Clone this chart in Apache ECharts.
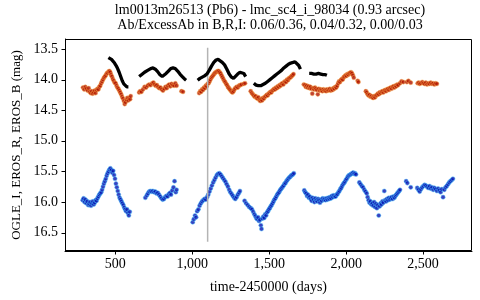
<!DOCTYPE html>
<html><head><meta charset="utf-8">
<script src="https://cdn.jsdelivr.net/npm/echarts@6/dist/echarts.min.js"></script>
<style>html,body{margin:0;padding:0;background:#fff}#c{width:480px;height:300px}</style>
</head><body><div id="c"></div>
<script>
const titleLines = ["lm0013m26513 (Pb6) - lmc_sc4_i_98034 (0.93 arcsec)", "Ab/ExcessAb in B,R,I: 0.06/0.36, 0.04/0.32, 0.00/0.03"];
const xName = "time-2450000 (days)";
const yName = "OGLE_I, EROS_R, EROS_B (mag)";
const xTicks = [500, 1000, 1500, 2000, 2500];
const yTicks = [13.5, 14.0, 14.5, 15.0, 15.5, 16.0, 16.5];
const eventDay = 1100;
const eventMag = [13.48, 16.65];

const ogleI = [
 [[455,13.64],[465,13.65],[475,13.67],[485,13.70],[495,13.73],[505,13.77],[515,13.82],[525,13.88],[535,13.95],[545,14.02],[555,14.07],[565,14.10],[575,14.12],[585,14.12]],
 [[655,13.95],[670,13.92],[690,13.88],[710,13.85],[730,13.82],[745,13.81],[760,13.83],[775,13.87],[790,13.92],[805,13.95],[815,13.94],[830,13.90],[845,13.86],[860,13.82],[875,13.81],[890,13.82],[905,13.86],[920,13.91],[935,13.95],[950,13.99],[960,14.01]],
 [[1035,14.01],[1050,13.98],[1065,13.96],[1080,13.94],[1095,13.91],[1110,13.85],[1125,13.78],[1140,13.72],[1155,13.68],[1168,13.67],[1180,13.69],[1195,13.72],[1210,13.76],[1225,13.83],[1240,13.91],[1255,13.96],[1268,13.98],[1280,13.96],[1295,13.91],[1310,13.88],[1322,13.87],[1335,13.90],[1347,13.95]],
 [[1400,14.06],[1415,14.09],[1430,14.10],[1445,14.10],[1460,14.08],[1475,14.06],[1490,14.03],[1505,14.00],[1520,13.97],[1535,13.94],[1550,13.91],[1565,13.88],[1580,13.85],[1595,13.81],[1610,13.78],[1625,13.75],[1640,13.73],[1655,13.72],[1668,13.71],[1680,13.72],[1692,13.77],[1703,13.83]],
 [[1760,13.90],[1775,13.90],[1790,13.91],[1805,13.91],[1820,13.90],[1835,13.91],[1850,13.92],[1865,13.92],[1875,13.93]]
];

const erosR = [
 [290,14.13],[298,14.16],[305,14.12],[312,14.15],[320,14.18],[327,14.14],[334,14.20],[340,14.22],[347,14.19],[353,14.23],[360,14.21],[366,14.18],[372,14.22],[378,14.17],[384,14.15],[390,14.16],[396,14.12],[402,14.10],[408,14.06],[414,14.03],[420,14.00],[426,13.97],[432,13.95],[438,13.93],[444,13.90],[450,13.89],[456,13.87],[462,13.86],[467,13.88],[472,13.92],[478,13.95],[484,13.99],[490,14.02],[496,14.05],[502,14.06],[508,14.10],[514,14.13],[520,14.15],[526,14.18],[532,14.21],[538,14.24],[544,14.28],[550,14.31],[556,14.35],[561,14.40],[566,14.37],[572,14.33],[578,14.30],[584,14.34],[590,14.30],[596,14.32],[600,14.27],
 [655,14.21],[662,14.19],[670,14.20],[680,14.16],[690,14.12],[700,14.13],[710,14.10],[720,14.08],[730,14.09],[740,14.06],[748,14.05],[755,14.08],[762,14.10],[770,14.09],[778,14.12],[786,14.14],[794,14.13],[802,14.16],[810,14.18],[818,14.15],[826,14.12],[834,14.14],[842,14.10],[850,14.08],[858,14.11],[866,14.07],[874,14.09],[882,14.10],[890,14.06],[898,14.10],[930,14.19],[940,14.20],
 [1045,14.22],[1052,14.19],[1058,14.20],[1064,14.16],[1070,14.17],[1076,14.13],[1082,14.14],[1088,14.10],[1094,14.11],[1100,14.07],[1106,14.06],[1112,14.03],[1118,14.00],[1124,13.97],[1130,13.95],[1136,13.93],[1142,13.91],[1148,13.89],[1154,13.88],[1160,13.87],[1166,13.86],[1172,13.86],[1178,13.88],[1184,13.90],[1190,13.93],[1196,13.96],[1202,13.99],[1208,14.02],[1214,14.04],[1220,14.07],[1226,14.09],[1232,14.12],[1238,14.14],[1244,14.16],[1250,14.18],[1256,14.20],[1262,14.21],[1268,14.19],[1274,14.16],[1280,14.14],[1288,14.12],[1296,14.13],[1304,14.10],[1312,14.09],[1320,14.08],[1335,14.07],[1343,14.06],
 [1380,14.19],[1387,14.22],[1394,14.24],[1400,14.26],[1406,14.28],[1412,14.27],[1418,14.30],[1424,14.31],[1430,14.29],[1436,14.33],[1442,14.35],[1448,14.32],[1454,14.34],[1460,14.30],[1466,14.31],[1472,14.28],[1478,14.27],[1484,14.25],[1490,14.26],[1496,14.23],[1502,14.22],[1508,14.20],[1514,14.21],[1520,14.18],[1526,14.17],[1532,14.15],[1538,14.16],[1544,14.13],[1550,14.14],[1556,14.11],[1562,14.12],[1568,14.09],[1574,14.10],[1580,14.07],[1586,14.06],[1592,14.08],[1598,14.04],[1604,14.03],[1610,14.04],[1616,14.00],[1622,14.01],[1628,13.98],[1634,13.97],[1640,13.96],[1646,13.94],[1652,13.93],[1658,13.91],
 [1725,14.08],[1732,14.09],[1738,14.12],[1744,14.10],[1750,14.13],[1756,14.11],[1762,14.14],[1768,14.12],[1774,14.15],[1780,14.23],[1786,14.14],[1792,14.16],[1798,14.13],[1804,14.15],[1810,14.17],[1816,14.24],[1822,14.15],[1828,14.18],[1834,14.16],[1840,14.17],[1846,14.19],[1852,14.16],[1858,14.18],[1864,14.17],[1870,14.19],[1876,14.16],[1882,14.18],[1888,14.17],[1894,14.15],[1900,14.18],[1906,14.16],[1912,14.17],[1918,14.14],[1924,14.15],[1930,14.12],[1936,14.13],[1942,14.10],[1948,14.06],[1954,14.03],[1960,14.04],[1966,14.01],[1972,13.99],[1978,14.00],[1984,13.96],[1990,13.95],[1996,13.93],[2002,13.94],[2008,13.91],[2014,13.92],[2020,13.90],[2026,13.89],[2032,13.88],[2038,13.90],[2044,13.93],[2050,13.97],[2075,14.02],[2080,14.04],
 [2128,14.19],[2134,14.21],[2140,14.24],[2146,14.26],[2152,14.25],[2158,14.28],[2164,14.27],[2170,14.29],[2176,14.30],[2182,14.27],[2188,14.29],[2194,14.26],[2200,14.25],[2206,14.23],[2212,14.24],[2218,14.21],[2224,14.22],[2230,14.20],[2236,14.19],[2242,14.21],[2248,14.18],[2254,14.17],[2260,14.19],[2266,14.16],[2272,14.15],[2278,14.17],[2284,14.14],[2290,14.13],[2296,14.15],[2302,14.12],[2308,14.11],[2314,14.13],[2320,14.10],[2326,14.11],[2332,14.08],[2338,14.09],[2350,14.06],[2360,14.03],[2372,14.04],[2395,14.04],[2405,14.02],[2420,14.05],
 [2465,14.06],[2472,14.05],[2478,14.07],[2486,14.06],[2495,14.04],[2502,14.06],[2510,14.07],[2518,14.05],[2526,14.08],[2534,14.06],[2542,14.07],[2550,14.05],[2558,14.07],[2566,14.06],[2574,14.08],[2582,14.06],[2590,14.07]
];

const erosB = [
 [288,15.97],[294,15.94],[300,16.00],[306,15.96],[312,16.02],[318,15.99],[324,16.05],[330,16.03],[336,16.00],[342,16.06],[348,16.02],[354,15.99],[360,16.04],[366,16.01],[372,15.97],[378,15.98],[384,15.94],[390,15.91],[396,15.88],[402,15.86],[408,15.84],[414,15.80],[420,15.75],[426,15.70],[432,15.66],[438,15.62],[444,15.57],[450,15.53],[456,15.50],[462,15.47],[468,15.45],[474,15.48],[480,15.52],[486,15.49],[492,15.56],[498,15.62],[504,15.70],[510,15.76],[516,15.82],[522,15.88],[528,15.93],[534,15.96],[540,15.99],[546,16.02],[552,16.05],[558,16.09],[564,16.12],[570,16.15],[576,16.12],[582,16.18],[588,16.22],[594,16.16],
 [695,15.93],[705,15.89],[712,15.86],[720,15.83],[728,15.82],[736,15.83],[744,15.82],[752,15.84],[760,15.83],[768,15.86],[776,15.85],[784,15.88],[792,15.91],[800,15.94],[808,15.96],[816,15.95],[824,15.92],[832,15.90],[840,15.91],[848,15.87],[856,15.85],[862,15.88],[870,15.81],[878,15.76],[885,15.66],[893,15.84],[898,15.80],
 [1003,16.33],[1010,16.28],[1018,16.22],[1025,16.25],[1032,16.15],[1040,16.12],[1048,16.06],[1056,16.02],[1064,15.99],[1072,15.97],[1080,15.95],[1088,15.96],[1096,15.92],[1104,15.88],[1112,15.83],[1120,15.78],[1128,15.73],[1136,15.68],[1144,15.64],[1152,15.60],[1160,15.56],[1168,15.54],[1176,15.53],[1184,15.55],[1192,15.58],[1200,15.61],[1208,15.64],[1216,15.67],[1224,15.71],[1232,15.75],[1240,15.80],[1248,15.84],[1256,15.87],[1264,15.90],[1272,15.93],[1280,15.95],[1288,15.92],[1296,15.88],[1304,15.85],[1310,15.82],
 [1340,15.98],[1350,16.02],[1360,16.05],[1370,16.08],[1380,16.10],[1388,16.12],[1396,16.16],[1404,16.20],[1410,16.23],[1416,16.26],[1422,16.28],[1428,16.25],[1434,16.31],[1440,16.29],[1446,16.38],[1450,16.44],[1456,16.27],[1462,16.24],[1468,16.26],[1474,16.20],[1480,16.22],[1486,16.17],[1492,16.15],[1498,16.12],[1504,16.10],[1510,16.07],[1516,16.05],[1522,16.02],[1528,15.99],[1534,15.96],[1540,15.94],[1546,15.91],[1552,15.88],[1558,15.86],[1564,15.84],[1570,15.81],[1576,15.79],[1582,15.77],[1588,15.75],[1594,15.73],[1600,15.70],[1606,15.69],[1612,15.66],[1618,15.64],[1624,15.62],[1630,15.60],[1636,15.59],[1642,15.57],[1648,15.56],[1654,15.55],[1660,15.53],
 [1728,15.81],[1734,15.84],[1740,15.86],[1746,15.90],[1752,15.88],[1758,15.93],[1764,15.91],[1770,15.95],[1776,15.98],[1782,15.93],[1788,15.96],[1794,16.00],[1800,15.94],[1806,15.97],[1812,15.99],[1818,15.95],[1824,15.97],[1830,16.01],[1836,15.96],[1842,15.98],[1848,15.94],[1854,15.96],[1860,15.95],[1866,15.97],[1872,15.94],[1878,15.96],[1884,15.93],[1890,15.95],[1896,15.92],[1902,15.94],[1908,15.90],[1914,15.92],[1920,15.89],[1926,15.91],[1932,15.91],[1938,15.88],[1944,15.87],[1950,15.84],[1956,15.82],[1962,15.79],[1968,15.77],[1974,15.74],[1980,15.71],[1986,15.69],[1992,15.67],[1998,15.64],[2004,15.62],[2010,15.59],[2016,15.57],[2022,15.56],[2028,15.55],[2034,15.54],[2040,15.53],[2046,15.52],[2052,15.54],[2058,15.53],[2064,15.55],
 [2086,15.68],[2094,15.71],[2102,15.74],[2110,15.76],[2118,15.80],[2126,15.83],[2134,15.86],[2140,15.92],[2146,15.97],[2152,16.01],[2158,15.99],[2164,16.04],[2170,16.02],[2176,16.06],[2182,16.00],[2188,16.08],[2194,16.03],[2200,16.10],[2206,16.05],[2212,16.22],[2218,16.07],[2224,16.02],[2230,16.04],[2236,15.99],[2242,16.01],[2248,15.82],[2254,15.97],[2260,15.99],[2266,15.95],[2272,15.97],[2278,15.93],[2284,15.96],[2290,15.94],[2296,15.92],[2302,15.95],[2308,15.91],[2314,15.93],[2320,15.90],[2326,15.88],[2332,15.86],[2338,15.84],[2344,15.82],[2350,15.80],[2390,15.66],[2398,15.69],[2420,15.76],
 [2462,15.77],[2470,15.80],[2478,15.83],[2486,15.79],[2494,15.76],[2502,15.74],[2510,15.72],[2518,15.73],[2526,15.75],[2534,15.77],[2542,15.74],[2550,15.78],[2558,15.76],[2566,15.80],[2574,15.77],[2582,15.79],[2590,15.82],[2598,15.78],[2606,15.81],[2614,15.84],[2622,15.79],[2630,15.92],[2638,15.80],[2646,15.76],[2654,15.74],[2662,15.71],[2670,15.68],[2678,15.66],[2686,15.64],[2694,15.62]
];

const FONT = "Liberation Serif";
function commas(v){ return String(Math.round(v)).replace(/\B(?=(\d{3})+(?!\d))/g, ","); }

const ogleData = [];
ogleI.forEach((seg, i) => { if (i) ogleData.push(null); seg.forEach(p => ogleData.push(p)); });

const X_MIN = 173, X_MAX = 2818, Y_MIN = 13.337, Y_MAX = 16.8;
const TICK = 4;
const labelStyle = {fontFamily: FONT, fontSize: 14, color: '#000'};

const titleGraphics = [
  {type: 'text', x: 270, y: 3, style: {text: titleLines[0], font: "14px 'Liberation Serif'", fill: '#000', textAlign: 'center'}},
  {type: 'text', x: 270, y: 18, style: {text: titleLines[1], font: "14px 'Liberation Serif'", fill: '#000', textAlign: 'center'}}
];

const chart = echarts.init(document.getElementById('c'), null, {renderer: 'canvas'});
chart.setOption({
  animation: false,
  backgroundColor: '#fff',
  textStyle: {fontFamily: FONT},
  graphic: titleGraphics,
  grid: {left: 65, right: 8, top: 39, bottom: 49},
  xAxis: {
    type: 'value', min: X_MIN, max: X_MAX, position: 'bottom',
    name: xName, nameLocation: 'middle', nameGap: 29,
    nameTextStyle: labelStyle,
    axisLine: {show: true, onZero: false, lineStyle: {color: '#000', width: 1}},
    axisTick: {show: false},
    axisLabel: Object.assign({customValues: xTicks, formatter: v => commas(v), margin: 6}, labelStyle),
    splitLine: {show: false}
  },
  yAxis: {
    type: 'value', inverse: true, min: Y_MIN, max: Y_MAX, position: 'left',
    name: yName, nameLocation: 'middle', nameGap: 40, nameRotate: 90,
    nameTextStyle: {fontFamily: FONT, fontSize: 13, color: '#000'},
    axisLine: {show: true, onZero: false, lineStyle: {color: '#000', width: 1}},
    axisTick: {show: false},
    axisLabel: Object.assign({customValues: yTicks, formatter: v => Number(v).toFixed(1), margin: 7}, labelStyle),
    splitLine: {show: false}
  },
  series: [
    {type: 'line', data: [[eventDay, eventMag[0]], [eventDay, eventMag[1]]], symbol: 'none', silent: true,
     lineStyle: {color: '#b4b4b4', width: 1.5}},
    {type: 'scatter', data: erosB, symbol: 'circle', symbolSize: 4.2, silent: true,
     itemStyle: {color: '#0812b0', borderColor: 'rgba(80,200,255,0.6)', borderWidth: 1}},
    {type: 'scatter', data: erosR, symbol: 'circle', symbolSize: 4.2, silent: true,
     itemStyle: {color: '#b01400', borderColor: 'rgba(255,180,80,0.55)', borderWidth: 1}},
    {type: 'line', data: ogleData, connectNulls: false, symbol: 'none', silent: true,
     lineStyle: {color: '#000', width: 3.3}}
  ]
});

// frame and outward tick marks placed through the axes' own scales
const toPx = (x, y) => chart.convertToPixel({xAxisIndex: 0, yAxisIndex: 0}, [x, y]);
const snap = v => Math.round(v) + 0.5;
const tl = toPx(X_MIN, Y_MIN), br = toPx(X_MAX, Y_MAX);
const L = snap(Math.min(tl[0], br[0])), R = snap(Math.max(tl[0], br[0]) - 1);
const T = snap(Math.min(tl[1], br[1])), B = snap(Math.max(tl[1], br[1]) - 1);
const stroke = {stroke: '#000', lineWidth: 1, fill: null};
const extra = [{type: 'rect', z: 100, silent: true, shape: {x: L, y: T, width: R - L, height: B - T}, style: Object.assign({}, stroke)}];
xTicks.forEach(t => { const x = snap(toPx(t, Y_MAX)[0]); extra.push({type: 'line', z: 100, silent: true, shape: {x1: x, y1: B, x2: x, y2: B + TICK}, style: Object.assign({}, stroke)}); });
yTicks.forEach(t => { const y = snap(toPx(X_MIN, t)[1]); extra.push({type: 'line', z: 100, silent: true, shape: {x1: L, y1: y, x2: L - TICK, y2: y}, style: Object.assign({}, stroke)}); });
chart.setOption({graphic: titleGraphics.concat(extra)});
</script>
</body></html>
